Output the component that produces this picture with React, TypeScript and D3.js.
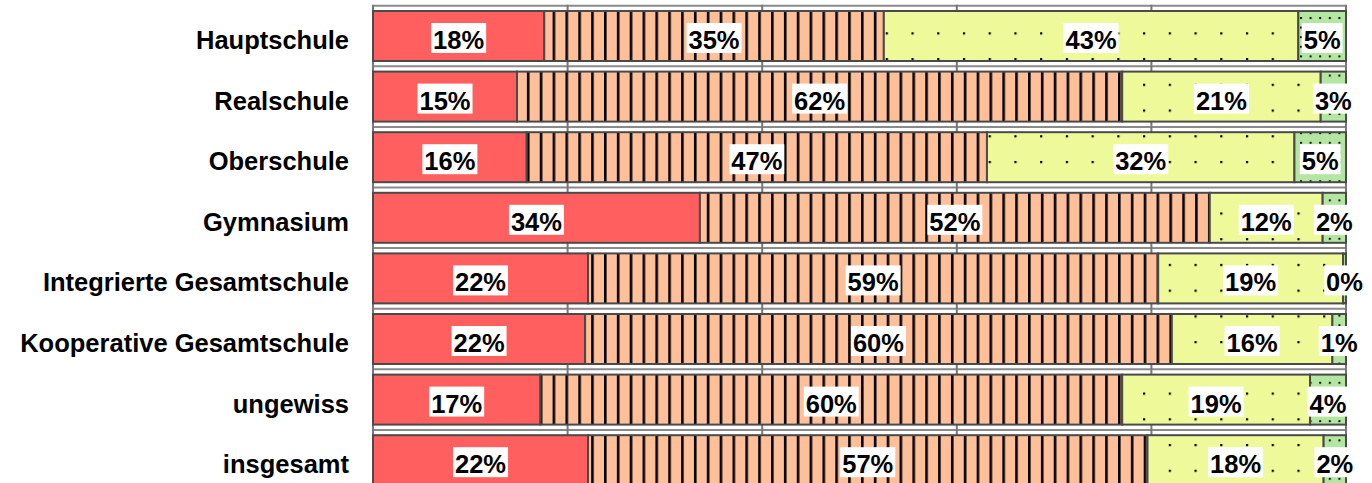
import React from "react";
import * as d3 from "d3";

const categories = [
  "Hauptschule",
  "Realschule",
  "Oberschule",
  "Gymnasium",
  "Integrierte Gesamtschule",
  "Kooperative Gesamtschule",
  "ungewiss",
  "insgesamt",
];
const seriesKeys = ["red", "orange", "yellow", "green"];
const redValues = [17.6, 14.8, 15.8, 33.6, 22.1, 21.8, 17.2, 22.1];
const orangeValues = [34.9, 62.2, 47.3, 52.4, 58.6, 60.3, 59.8, 57.5];
const yellowValues = [42.6, 20.4, 31.6, 11.6, 19.0, 16.5, 19.3, 18.1];
const greenValues = [4.9, 2.6, 5.3, 2.4, 0.3, 1.4, 3.7, 2.3];
const redLabels = ["18%", "15%", "16%", "34%", "22%", "22%", "17%", "22%"];
const orangeLabels = ["35%", "62%", "47%", "52%", "59%", "60%", "60%", "57%"];
const yellowLabels = ["43%", "21%", "32%", "12%", "19%", "16%", "19%", "18%"];
const greenLabels = ["5%", "3%", "5%", "2%", "0%", "1%", "4%", "2%"];
const xTicks = [0, 20, 40, 60, 80, 100];

const W = 1372;
const H = 483;
const FONT = "'Liberation Sans', Arial, Helvetica, sans-serif";
const FS = 25.5;

const colors: Record<string, string> = {
  red: "#ff5f5f",
  orange: "#ffbf98",
  yellow: "#eefa99",
  green: "#b3e6a0",
};
const patterns: Record<string, string | null> = {
  red: null,
  orange: "url(#stripes)",
  yellow: "url(#dotsY)",
  green: "url(#dotsG)",
};

const charW: Record<string, number> = { "%": 0.889 };
function textWidth(s: string) {
  let w = 0;
  for (const c of s) w += charW[c] ?? 0.556;
  return w * FS;
}

export default function App() {
  const table = categories.map((c, i) => ({
    category: c,
    red: redValues[i],
    orange: orangeValues[i],
    yellow: yellowValues[i],
    green: greenValues[i],
  }));
  const labelTable: Record<string, string[]> = {
    red: redLabels,
    orange: orangeLabels,
    yellow: yellowLabels,
    green: greenLabels,
  };
  const stacked = d3.stack<any>().keys(seriesKeys)(table);

  const x = d3.scaleLinear().domain([0, 100]).range([373, 1346]);
  const y = d3
    .scaleBand<string>()
    .domain(categories)
    .range([5.7, 490.5])
    .paddingInner(0.175)
    .paddingOuter(0.0875);
  const step = y.step();
  const bw = y.bandwidth();
  const boundaries = d3.range(categories.length + 1).map(
    (i) => (y(categories[0]) as number) - (step - bw) / 2 + i * step
  );

  return (
    <svg
      width={W}
      height={H}
      style={{ position: "absolute", left: 0, top: 0, background: "#fff" }}
      fontFamily={FONT}
    >
      <defs>
        <pattern id="stripes" patternUnits="userSpaceOnUse" x={x(0) - 0.3} y={0} width={12.85} height={20}>
          <rect x={0} y={0} width={2.6} height={20} fill="#000" />
        </pattern>
        <pattern id="dotsY" patternUnits="userSpaceOnUse" x={1117.3} y={32.3} width={25.73} height={25.73}>
          <rect x={0} y={0} width={2.2} height={2.2} fill="#000" />
        </pattern>
        <pattern id="dotsG" patternUnits="userSpaceOnUse" x={1300} y={17} width={9.6} height={9.6}>
          <rect x={0} y={0} width={2} height={2} fill="#111" />
        </pattern>
      </defs>
      <rect x={0} y={0} width={W} height={H} fill="#fff" />
      {/* gridlines */}
      {boundaries.map((b, i) => (
        <line key={"h" + i} x1={x(0)} x2={x(100)} y1={b} y2={b} stroke="#8a8a8a" strokeWidth={2} />
      ))}
      {xTicks.map((t) => (
        <line key={"v" + t} x1={x(t)} x2={x(t)} y1={boundaries[0] - 1} y2={H + 10} stroke="#777" strokeWidth={2} />
      ))}
      {/* bars */}
      {stacked.map((layer) => (
        <g key={layer.key}>
          {layer.map((d, i) => {
            const x0 = x(d[0]);
            const x1 = x(d[1]);
            const yy = y(categories[i]) as number;
            return (
              <g key={i}>
                <rect x={x0} y={yy} width={Math.max(0, x1 - x0)} height={bw} fill={colors[layer.key]} />
                {patterns[layer.key] && (
                  <rect x={x0} y={yy} width={Math.max(0, x1 - x0)} height={bw} fill={patterns[layer.key] as string} />
                )}
                <rect
                  x={x0}
                  y={yy}
                  width={Math.max(0, x1 - x0)}
                  height={bw}
                  fill="none"
                  stroke="#4a4a4a"
                  strokeWidth={2}
                />
              </g>
            );
          })}
        </g>
      ))}
      {/* value labels */}
      {stacked.map((layer) => (
        <g key={"l" + layer.key}>
          {layer.map((d, i) => {
            const cx = (x(d[0]) + x(d[1])) / 2;
            const cy = (y(categories[i]) as number) + bw / 2;
            const label = labelTable[layer.key][i];
            const tw = textWidth(label);
            return (
              <g key={i}>
                <rect x={cx - tw / 2 - 2} y={cy - 13} width={tw + 4} height={30} fill="#fff" />
                <text
                  x={cx}
                  y={cy + 4}
                  textAnchor="middle"
                  dominantBaseline="central"
                  fontSize={FS}
                  fontWeight="bold"
                  fill="#000"
                >
                  {label}
                </text>
              </g>
            );
          })}
        </g>
      ))}
      {/* category labels */}
      {categories.map((c) => (
        <text
          key={c}
          x={349}
          y={(y(c) as number) + bw / 2 + 4}
          textAnchor="end"
          dominantBaseline="central"
          fontSize={FS}
          fontWeight="bold"
          fill="#000"
        >
          {c}
        </text>
      ))}
    </svg>
  );
}
